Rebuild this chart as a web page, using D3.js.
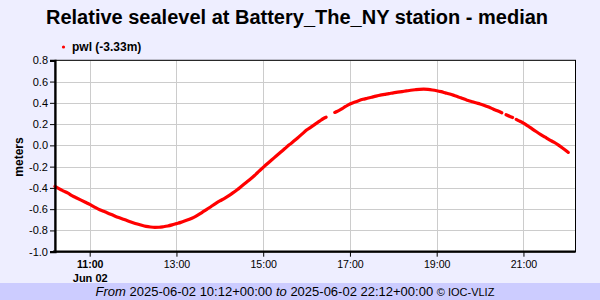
<!DOCTYPE html>
<html>
<head>
<meta charset="utf-8">
<script src="https://cdn.jsdelivr.net/npm/d3@7"></script>
<style>
  html, body { margin: 0; padding: 0; background: #eeeeff; }
  svg { display: block; font-family: "Liberation Sans", Arial, sans-serif; }
</style>
</head>
<body>
<svg id="chart" width="600" height="300"></svg>
<script>
// ---- data ----
const titleText = "Relative sealevel at Battery_The_NY station - median";
const seriesName = "pwl (-3.33m)";
const yLabel = "meters";
const day = "2025-06-02";
const domainStart = "10:12";
const domainEnd = "22:12";
const yTicks = [-1.0, -0.8, -0.6, -0.4, -0.2, 0.0, 0.2, 0.4, 0.6, 0.8];
const xTickLabels = ["11:00", "13:00", "15:00", "17:00", "19:00", "21:00"];
const times = [
  "10:12","10:18","10:24","10:30","10:36","10:42","10:48","10:54",
  "11:00","11:06","11:12","11:18","11:24","11:30","11:36","11:42","11:48","11:54",
  "12:00","12:06","12:12","12:18","12:24","12:30","12:36","12:42","12:48","12:54",
  "13:00","13:06","13:12","13:18","13:24","13:30","13:36","13:42","13:48","13:54",
  "14:00","14:06","14:12","14:18","14:24","14:30","14:36","14:42","14:48","14:54",
  "15:00","15:06","15:12","15:18","15:24","15:30","15:36","15:42","15:48","15:54",
  "16:00","16:06","16:12","16:18","16:24","16:27","16:30","16:36","16:39","16:42","16:48","16:54",
  "17:00","17:06","17:12","17:18","17:24","17:30","17:36","17:42","17:48","17:54",
  "18:00","18:06","18:12","18:18","18:24","18:30","18:36","18:42","18:48","18:54",
  "19:00","19:06","19:12","19:18","19:24","19:30","19:36","19:42","19:48","19:54",
  "20:00","20:06","20:12","20:18","20:24","20:30","20:33","20:36","20:42","20:45","20:47","20:50","20:54",
  "21:00","21:06","21:12","21:18","21:24","21:30","21:36","21:42","21:48","21:54",
  "22:00","22:02"
];
const pwl = [
  -0.385,-0.410,-0.430,-0.450,-0.475,-0.495,-0.515,-0.535,
  -0.555,-0.578,-0.600,-0.617,-0.633,-0.650,-0.668,-0.683,-0.698,-0.713,
  -0.727,-0.740,-0.752,-0.762,-0.768,-0.771,-0.770,-0.765,-0.758,-0.748,
  -0.736,-0.724,-0.710,-0.695,-0.677,-0.654,-0.628,-0.602,-0.575,-0.548,
  -0.523,-0.500,-0.475,-0.447,-0.417,-0.384,-0.351,-0.318,-0.283,-0.245,
  -0.207,-0.170,-0.135,-0.100,-0.065,-0.030,0.005,0.038,0.072,0.108,
  0.144,0.172,0.200,0.228,0.255,0.265,null,null,0.310,0.318,0.340,0.366,
  0.389,0.405,0.420,0.433,0.443,0.453,0.463,0.472,0.479,0.486,
  0.494,0.500,0.506,0.512,0.518,0.523,0.527,0.528,0.526,0.521,
  0.514,0.505,0.494,0.483,0.470,0.456,0.440,0.425,0.413,0.400,
  0.389,0.376,0.360,0.342,0.325,0.307,null,0.288,0.270,0.262,null,0.245,0.230,
  0.210,0.183,0.155,0.128,0.102,0.077,0.052,0.030,0.005,-0.024,
  -0.055,-0.066
];

// ---- chart ----
const svg = d3.select("#chart");
const W = 600, H = 300;
const plot = { left: 55, right: 575.5, top: 60.3, bottom: 251.7 };
const parseT = s => new Date(day + "T" + s + ":00Z");

const x = d3.scaleUtc()
  .domain([parseT(domainStart), parseT(domainEnd)])
  .range([plot.left, plot.right]);
const y = d3.scaleLinear().domain([-1.0, 0.8]).range([plot.bottom, plot.top]);

// background
svg.append("rect").attr("width", W).attr("height", H).attr("fill", "#eeeeff");
svg.append("rect").attr("x", 0).attr("y", 283).attr("width", W).attr("height", H - 283).attr("fill", "#ccccff");

// plot area
svg.append("rect")
  .attr("x", plot.left).attr("y", plot.top)
  .attr("width", plot.right - plot.left).attr("height", plot.bottom - plot.top)
  .attr("fill", "#ffffff");

const xTicks = xTickLabels.map(parseT);

// grid
const grid = svg.append("g").attr("stroke", "#cccccc").attr("stroke-width", 1);
grid.selectAll("line.h").data(yTicks).join("line")
  .attr("x1", plot.left).attr("x2", plot.right)
  .attr("y1", d => Math.round(y(d)) + 0.5).attr("y2", d => Math.round(y(d)) + 0.5);
grid.selectAll("line.v").data(xTicks).join("line")
  .attr("y1", plot.top).attr("y2", plot.bottom)
  .attr("x1", d => Math.round(x(d)) + 0.5).attr("x2", d => Math.round(x(d)) + 0.5);

// border
svg.append("rect")
  .attr("x", plot.left).attr("y", plot.top)
  .attr("width", plot.right - plot.left).attr("height", plot.bottom - plot.top)
  .attr("fill", "none").attr("stroke", "#000").attr("stroke-width", 1);

// data line
const data = times.map((t, i) => ({ t: parseT(t), v: pwl[i] }));
const line = d3.line()
  .defined(d => d.v !== null)
  .x(d => x(d.t)).y(d => y(d.v))
  .curve(d3.curveMonotoneX);
svg.append("path")
  .datum(data)
  .attr("d", line)
  .attr("fill", "none")
  .attr("stroke", "#ff0000")
  .attr("stroke-width", 3.2)
  .attr("stroke-linecap", "round")
  .attr("stroke-linejoin", "round");

// y axis
const yAxis = d3.axisLeft(y).tickValues(yTicks).tickSize(5).tickPadding(2)
  .tickFormat(d => d.toFixed(1));
const gy = svg.append("g").attr("transform", `translate(${plot.left},0)`).call(yAxis);
gy.select(".domain").attr("stroke", "#000").attr("stroke-width", 2.2);
gy.selectAll("text").attr("font-size", "11px").attr("fill", "#000")
  .attr("font-family", "'Liberation Sans', Arial, sans-serif");

// x axis
const xAxis = d3.axisBottom(x).tickValues(xTicks).tickSize(5).tickPadding(4)
  .tickFormat((d, i) => xTickLabels[i]);
const gx = svg.append("g").attr("transform", `translate(0,${plot.bottom})`).call(xAxis);
gx.select(".domain").attr("stroke", "#000").attr("stroke-width", 2.2)
  .attr("d", `M${plot.left - 2},0H${plot.right}`);
gx.selectAll("text").attr("font-size", "10.6px").attr("fill", "#000")
  .attr("font-family", "'Liberation Sans', Arial, sans-serif")
  .attr("font-weight", (d, i) => i === 0 ? "bold" : "normal");
gx.selectAll(".tick").filter((d, i) => i === 0).append("text")
  .attr("y", 30).attr("fill", "#000").attr("text-anchor", "middle")
  .attr("font-size", "11px").attr("font-weight", "bold")
  .attr("font-family", "'Liberation Sans', Arial, sans-serif")
  .text(d3.utcFormat("%b %d")(xTicks[0]));

// y label
svg.append("text")
  .attr("transform", `translate(23,157) rotate(-90)`)
  .attr("text-anchor", "middle")
  .attr("font-size", "12px").attr("font-weight", "bold")
  .text(yLabel);

// title
svg.append("text")
  .attr("x", 297).attr("y", 24)
  .attr("text-anchor", "middle")
  .attr("font-size", "20px").attr("font-weight", "bold")
  .text(titleText);

// legend
svg.append("circle").attr("cx", 63.5).attr("cy", 47).attr("r", 1.6).attr("fill", "#ff0000");
svg.append("text").attr("x", 72).attr("y", 51)
  .attr("font-size", "12px").attr("font-weight", "bold").text(seriesName);

// footer
const foot = svg.append("text").attr("x", 295).attr("y", 296)
  .attr("text-anchor", "middle").attr("font-size", "13px").attr("fill", "#000");
foot.append("tspan").attr("font-style", "italic").text("From ");
foot.append("tspan").text(`${day} ${domainStart}+00:00 `);
foot.append("tspan").attr("font-style", "italic").text("to ");
foot.append("tspan").text(`${day} ${domainEnd}+00:00 `);
foot.append("tspan").attr("font-size", "11px").text("© IOC-VLIZ");
</script>
</body>
</html>
